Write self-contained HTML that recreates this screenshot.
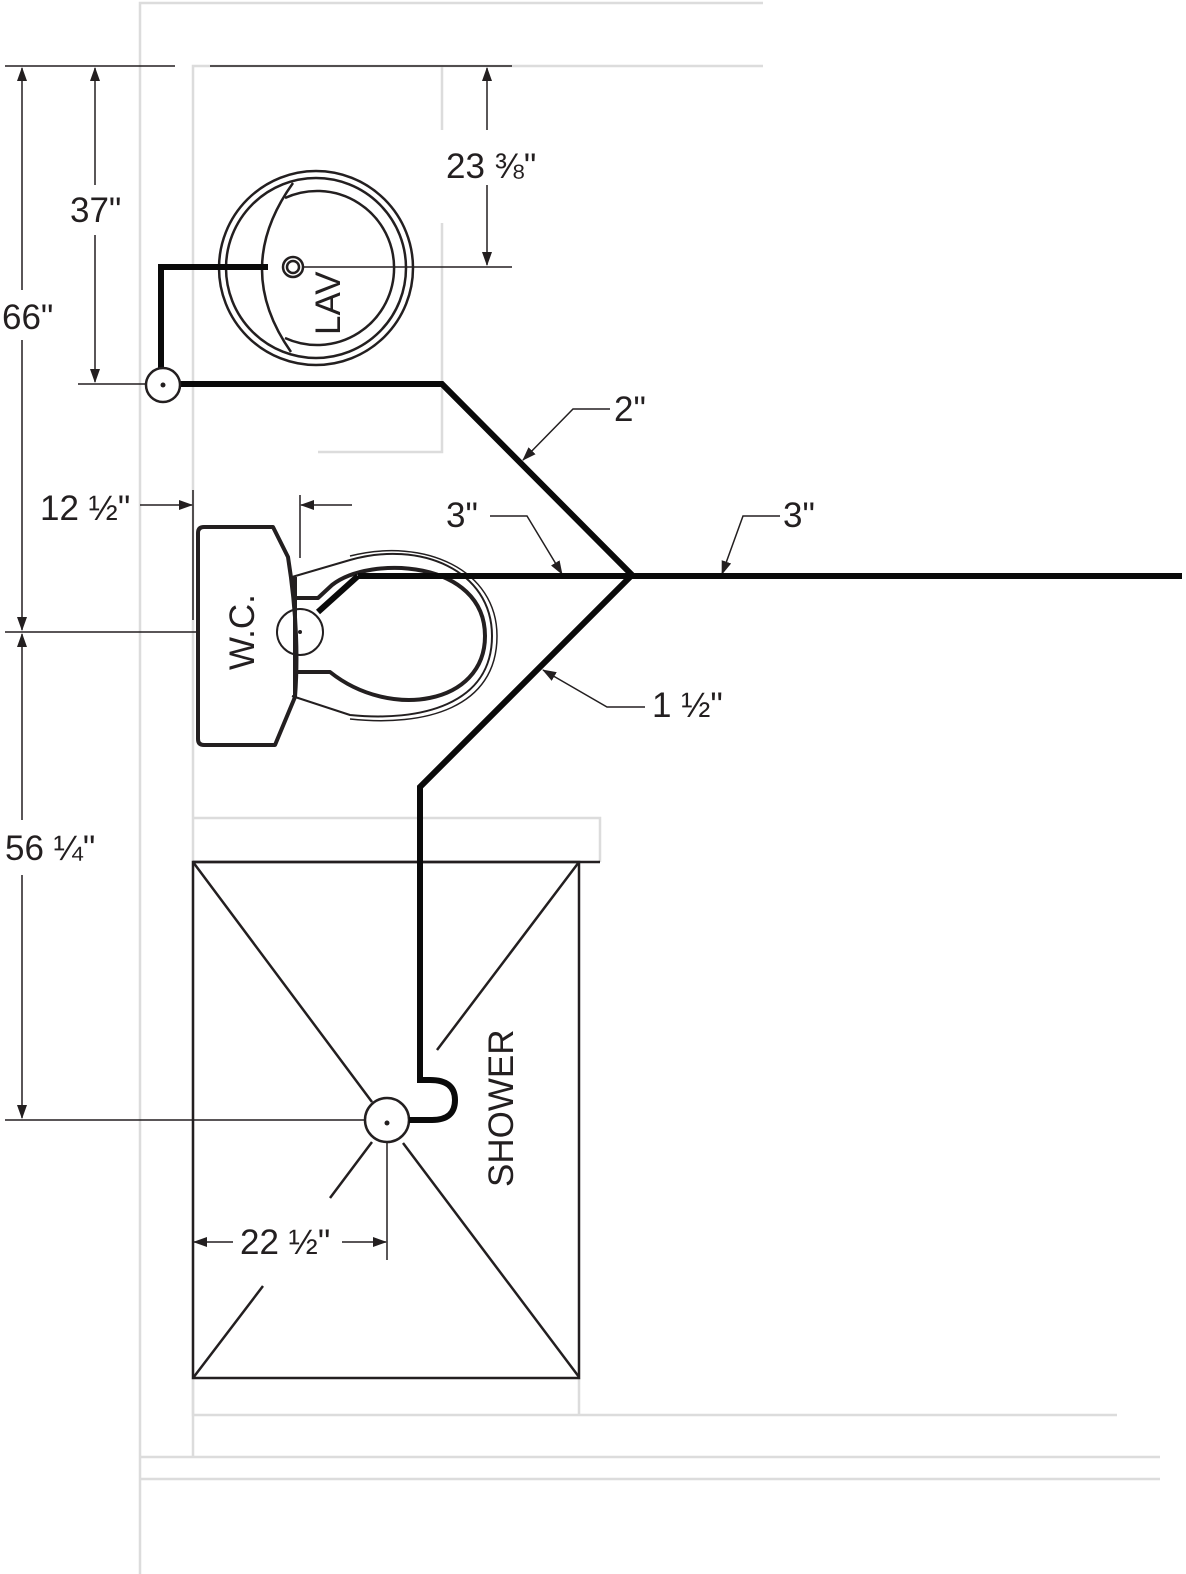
<!DOCTYPE html>
<html><head><meta charset="utf-8"><style>
html,body{margin:0;padding:0;background:#fff}
svg{display:block}
text{font-family:"Liberation Sans",sans-serif;fill:#231f20}
</style></head><body>
<svg width="1186" height="1574" viewBox="0 0 1186 1574" xmlns="http://www.w3.org/2000/svg">
<defs>
<marker id="ar" markerWidth="14" markerHeight="10" refX="13" refY="5" orient="auto" markerUnits="userSpaceOnUse">
<path d="M0,0 L14,5 L0,10 Z" fill="#231f20"/></marker>
</defs>
<g stroke="#dcdcdc" stroke-width="2.5" fill="none">
<path d="M140,1574 V3 H763"/>
<path d="M193,1457 V66 H763"/>
<path d="M442,66 V130 M442,223 V452 H318"/>
<path d="M193,818 H600 V862"/>
<path d="M193,1378 V1415 H1117 M579,1378 V1415"/>
<path d="M140,1457 H1160 M140,1479 H1160"/>
</g>
<g stroke="#231f20" stroke-width="1.5" fill="none">
<path d="M5,66 H175 M210,66 H512"/>
<path d="M78,384 H145 M5,632 H197 M5,1120 H365"/>
<path d="M303,267 H512"/>
<line x1="22" y1="290" x2="22" y2="68" marker-end="url(#ar)"/>
<line x1="22" y1="340" x2="22" y2="630" marker-end="url(#ar)"/>
<line x1="95" y1="185" x2="95" y2="68" marker-end="url(#ar)"/>
<line x1="95" y1="235" x2="95" y2="382" marker-end="url(#ar)"/>
<line x1="22" y1="820" x2="22" y2="634" marker-end="url(#ar)"/>
<line x1="22" y1="875" x2="22" y2="1118" marker-end="url(#ar)"/>
<line x1="487" y1="130" x2="487" y2="68" marker-end="url(#ar)"/>
<line x1="487" y1="185" x2="487" y2="265" marker-end="url(#ar)"/>
<path d="M193,490 V620 M300,495 V558"/>
<line x1="140" y1="505" x2="192" y2="505" marker-end="url(#ar)"/>
<line x1="352" y1="505" x2="301" y2="505" marker-end="url(#ar)"/>
<polyline points="610,409 573,409 523,460" marker-end="url(#ar)"/>
<polyline points="490,516 527,516 562,574" marker-end="url(#ar)"/>
<polyline points="780,516 743,516 722,574" marker-end="url(#ar)"/>
<polyline points="645,707 607,707 543,670" marker-end="url(#ar)"/>
<line x1="233" y1="1242" x2="194" y2="1242" marker-end="url(#ar)"/>
<line x1="342" y1="1242" x2="386" y2="1242" marker-end="url(#ar)"/>
<path d="M387,1140 V1260"/>
</g>
<g stroke="#231f20" stroke-width="2.5" fill="none">
<circle cx="316" cy="268" r="97"/>
<circle cx="316" cy="268" r="90"/>
<path d="M285,198 A77,77 0 1 1 285,338"/>
<path d="M293,183 Q232,268 291,352"/>
<circle cx="293" cy="267" r="10"/>
<circle cx="293" cy="267" r="6"/>
</g>
<g stroke="#231f20" fill="none" stroke-linejoin="round">
<path d="M204,527 H273 L288,557 Q300,632 295,697 L275,745 H204 Q198,745 198,739 V533 Q198,527 204,527 Z" stroke-width="4"/>
<path d="M292,577 L350,560 C420,540 492,570 492,636 C492,705 420,722 350,715 L292,696" stroke-width="2"/>
<path d="M350,556 C425,537 497,570 497,636 C497,708 425,727 350,719" stroke-width="1.5"/>
<path d="M295,598 H318 L332,585 C370,555 485,560 485,636 C485,705 390,720 330,672 H295" stroke-width="4"/>
<path d="M295,577 V696" stroke-width="4"/>
<circle cx="300" cy="632" r="23" stroke-width="2"/>
</g>
<circle cx="300" cy="632" r="2" fill="#231f20"/>
<g stroke="#231f20" stroke-width="2.5" fill="none">
<path d="M193,862 H600"/>
<rect x="193" y="862" width="386" height="516"/>
<path d="M193,862 L372,1102 M403,1143 L579,1377 M579,862 L437,1050 M372,1142 L330,1198 M263,1286 L193,1378"/>
<circle cx="387" cy="1120" r="22" fill="#fff"/>
</g>
<circle cx="387" cy="1123" r="2.5" fill="#231f20"/>
<g stroke="#0a0a0a" stroke-width="6" fill="none" stroke-linejoin="miter">
<path d="M268,267 H161 V368"/>
<path d="M180,384 H442 L632,575 L420,787 V1080 H430 Q455,1080 455,1100 Q455,1120 432,1120 H409"/>
<path d="M358,576 H1182"/>
<path d="M318,612 L358,576"/>
</g>
<circle cx="163" cy="385" r="17" stroke="#231f20" stroke-width="2.5" fill="#fff"/>
<circle cx="163" cy="385" r="2.5" fill="#231f20"/>
<g font-size="35">
<text x="2" y="329">66"</text>
<text x="70" y="222">37"</text>
<text x="5" y="860">56 ¼"</text>
<text x="446" y="178">23 ⅜"</text>
<text x="40" y="520">12 ½"</text>
<text x="614" y="421">2"</text>
<text x="446" y="527">3"</text>
<text x="783" y="527">3"</text>
<text x="652" y="717">1 ½"</text>
<text x="240" y="1254">22 ½"</text>
<text transform="translate(340,335) rotate(-90)">LAV</text>
<text transform="translate(254,670) rotate(-90)">W.C.</text>
<text transform="translate(513,1187) rotate(-90)">SHOWER</text>
</g>
</svg>
</body></html>
